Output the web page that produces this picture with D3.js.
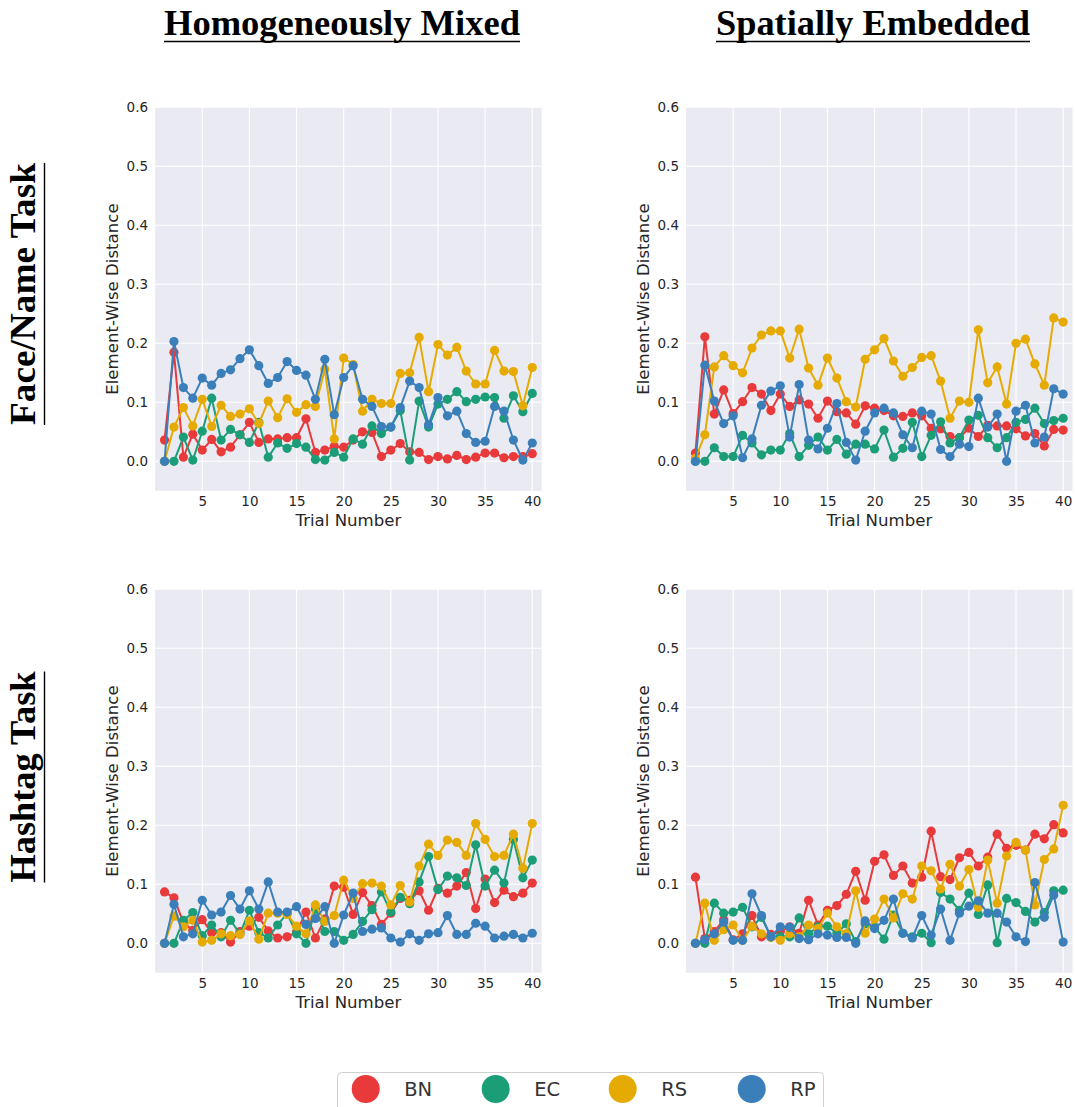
<!DOCTYPE html>
<html>
<head>
<meta charset="utf-8">
<script src="https://cdn.jsdelivr.net/npm/d3@7"></script>
<style>
  html, body { margin: 0; padding: 0; background: #ffffff; }
  svg { display: block; }
</style>
</head>
<body>
<script>
// Trial numbers shared by every panel
const trials = d3.range(1, 41);

const seriesNames = ["BN", "EC", "RS", "RP"];
const seriesColors = ["#e8393b", "#1b9e77", "#e6ab02", "#3a7fba"];

const yTicks = [0.0, 0.1, 0.2, 0.3, 0.4, 0.5, 0.6];
const xTicks = [5, 10, 15, 20, 25, 30, 35, 40];

const columnTitles = ["Homogeneously Mixed", "Spatially Embedded"];
const rowTitles = ["Face/Name Task", "Hashtag Task"];

// Face/Name task, homogeneously mixed
const faceMixedBN = [0.036,0.185,0.007,0.046,0.019,0.037,0.016,0.024,0.045,0.066,0.032,0.038,0.038,0.040,0.040,0.072,0.015,0.019,0.025,0.024,0.036,0.050,0.049,0.008,0.019,0.030,0.016,0.015,0.003,0.008,0.004,0.010,0.003,0.007,0.014,0.014,0.006,0.008,0.008,0.013];
const faceMixedEC = [0.000,0.000,0.041,0.002,0.051,0.107,0.036,0.054,0.045,0.032,0.066,0.007,0.031,0.022,0.030,0.024,0.003,0.002,0.015,0.007,0.038,0.029,0.060,0.047,0.058,0.086,0.002,0.102,0.058,0.097,0.105,0.118,0.101,0.105,0.109,0.108,0.073,0.111,0.084,0.115];
const faceMixedRS = [0.000,0.058,0.091,0.060,0.105,0.059,0.095,0.076,0.080,0.089,0.064,0.102,0.074,0.106,0.083,0.096,0.093,0.156,0.038,0.175,0.164,0.085,0.105,0.098,0.098,0.149,0.150,0.210,0.118,0.198,0.180,0.193,0.153,0.131,0.131,0.188,0.153,0.152,0.094,0.159];
const faceMixedRP = [0.000,0.203,0.125,0.107,0.141,0.129,0.149,0.155,0.174,0.189,0.162,0.132,0.142,0.169,0.154,0.146,0.105,0.173,0.079,0.142,0.162,0.105,0.093,0.059,0.058,0.091,0.136,0.125,0.062,0.108,0.077,0.085,0.047,0.032,0.034,0.093,0.085,0.036,0.002,0.031];

// Face/Name task, spatially embedded
const faceSpatialBN = [0.014,0.211,0.080,0.121,0.081,0.101,0.125,0.114,0.086,0.114,0.093,0.104,0.097,0.073,0.102,0.084,0.082,0.063,0.094,0.090,0.086,0.077,0.076,0.082,0.077,0.056,0.055,0.042,0.040,0.056,0.042,0.061,0.060,0.060,0.055,0.043,0.047,0.026,0.054,0.053];
const faceSpatialEC = [0.000,0.000,0.023,0.008,0.008,0.044,0.031,0.011,0.019,0.019,0.047,0.008,0.027,0.041,0.019,0.037,0.012,0.029,0.029,0.021,0.053,0.007,0.022,0.066,0.008,0.044,0.067,0.031,0.040,0.070,0.078,0.040,0.023,0.040,0.066,0.071,0.090,0.064,0.069,0.073];
const faceSpatialRS = [0.005,0.045,0.160,0.179,0.162,0.150,0.192,0.214,0.221,0.221,0.175,0.224,0.158,0.129,0.175,0.141,0.101,0.092,0.173,0.189,0.208,0.170,0.144,0.159,0.176,0.179,0.136,0.073,0.102,0.100,0.223,0.133,0.160,0.097,0.200,0.207,0.165,0.129,0.243,0.236];
const faceSpatialRP = [0.000,0.163,0.102,0.064,0.077,0.006,0.038,0.095,0.119,0.128,0.041,0.130,0.036,0.021,0.056,0.098,0.032,0.002,0.051,0.082,0.090,0.082,0.045,0.023,0.085,0.080,0.020,0.008,0.029,0.025,0.107,0.058,0.080,0.000,0.085,0.095,0.031,0.041,0.123,0.114];

// Hashtag task, homogeneously mixed
const hashMixedBN = [0.087,0.077,0.035,0.022,0.040,0.018,0.018,0.002,0.020,0.029,0.044,0.021,0.009,0.011,0.019,0.053,0.009,0.041,0.097,0.095,0.049,0.086,0.064,0.032,0.051,0.076,0.073,0.089,0.056,0.093,0.085,0.097,0.120,0.059,0.109,0.069,0.090,0.079,0.085,0.102];
const hashMixedEC = [0.000,0.000,0.039,0.052,0.013,0.031,0.011,0.039,0.016,0.056,0.018,0.009,0.031,0.051,0.016,0.000,0.058,0.020,0.020,0.005,0.015,0.037,0.057,0.087,0.053,0.078,0.067,0.104,0.147,0.091,0.114,0.111,0.098,0.167,0.097,0.124,0.102,0.176,0.111,0.141];
const hashMixedRS = [0.000,0.046,0.028,0.039,0.002,0.005,0.016,0.013,0.015,0.038,0.007,0.051,0.051,0.049,0.029,0.016,0.065,0.037,0.047,0.107,0.076,0.101,0.102,0.097,0.065,0.098,0.070,0.131,0.168,0.149,0.175,0.171,0.149,0.203,0.176,0.147,0.149,0.185,0.127,0.203];
const hashMixedRP = [0.000,0.066,0.011,0.016,0.073,0.048,0.053,0.081,0.058,0.089,0.058,0.104,0.053,0.053,0.062,0.032,0.042,0.062,0.000,0.048,0.085,0.020,0.024,0.026,0.009,0.002,0.016,0.005,0.016,0.018,0.047,0.015,0.015,0.034,0.029,0.009,0.012,0.015,0.009,0.017];

// Hashtag task, spatially embedded
const hashSpatialBN = [0.112,0.008,0.020,0.040,0.006,0.016,0.047,0.011,0.015,0.020,0.028,0.017,0.073,0.031,0.056,0.064,0.083,0.122,0.073,0.139,0.150,0.115,0.131,0.102,0.112,0.190,0.113,0.108,0.145,0.154,0.131,0.146,0.185,0.161,0.166,0.158,0.185,0.177,0.201,0.187];
const hashSpatialEC = [0.000,0.000,0.068,0.051,0.053,0.061,0.028,0.044,0.011,0.011,0.011,0.043,0.016,0.028,0.029,0.017,0.033,0.003,0.033,0.028,0.007,0.048,0.017,0.011,0.017,0.001,0.086,0.075,0.056,0.085,0.049,0.099,0.001,0.076,0.069,0.054,0.036,0.052,0.089,0.090];
const hashSpatialRS = [0.000,0.068,0.005,0.023,0.031,0.005,0.029,0.016,0.010,0.005,0.016,0.011,0.031,0.025,0.051,0.028,0.016,0.089,0.017,0.041,0.075,0.043,0.084,0.075,0.131,0.123,0.092,0.134,0.097,0.125,0.061,0.141,0.068,0.148,0.171,0.158,0.065,0.142,0.160,0.234];
const hashSpatialRP = [0.000,0.006,0.016,0.036,0.005,0.005,0.084,0.047,0.011,0.028,0.027,0.008,0.006,0.016,0.014,0.010,0.010,0.000,0.038,0.025,0.039,0.075,0.017,0.009,0.047,0.014,0.058,0.005,0.051,0.063,0.072,0.051,0.051,0.036,0.011,0.003,0.103,0.044,0.082,0.002];

// Panels in row-major order: [row][column]
const panelSeries = [
  [[faceMixedBN, faceMixedEC, faceMixedRS, faceMixedRP],
   [faceSpatialBN, faceSpatialEC, faceSpatialRS, faceSpatialRP]],
  [[hashMixedBN, hashMixedEC, hashMixedRS, hashMixedRP],
   [hashSpatialBN, hashSpatialEC, hashSpatialRS, hashSpatialRP]]
];

// ---- layout ----
const W = 1075, H = 1107;
const plotW = 386.6, plotH = 383.5;
const colX = [155.1, 686.0];
const rowY = [107.3, 589.3];
const textColor = "#262626";
const sansFont = "'DejaVu Sans', sans-serif";
const serifFont = "'Liberation Serif', 'DejaVu Serif', serif";

const svg = d3.select("body").append("svg")
  .attr("width", W).attr("height", H);

const x = d3.scaleLinear().domain([0, 41]).range([0, plotW]);
const y = d3.scaleLinear().domain([-0.05, 0.6]).range([plotH, 0]);

const line = d3.line()
  .x((d, i) => x(trials[i]))
  .y(d => y(d));

panelSeries.forEach((row, r) => {
  row.forEach((series, c) => {
    const g = svg.append("g")
      .attr("transform", `translate(${colX[c]},${rowY[r]})`);

    g.append("rect")
      .attr("width", plotW).attr("height", plotH)
      .attr("fill", "#eaeaf2");

    // grid lines
    g.append("g").selectAll("line").data(yTicks).join("line")
      .attr("x1", 0).attr("x2", plotW)
      .attr("y1", d => y(d)).attr("y2", d => y(d))
      .attr("stroke", "#ffffff").attr("stroke-width", 1.1);
    g.append("g").selectAll("line").data(xTicks).join("line")
      .attr("y1", 0).attr("y2", plotH)
      .attr("x1", d => x(d)).attr("x2", d => x(d))
      .attr("stroke", "#ffffff").attr("stroke-width", 1.1);

    // axes (no domain line, no tick marks)
    const yAxis = g.append("g")
      .call(d3.axisLeft(y).tickValues(yTicks).tickFormat(d3.format(".1f")).tickSize(0).tickPadding(7));
    const xAxis = g.append("g")
      .attr("transform", `translate(0,${plotH})`)
      .call(d3.axisBottom(x).tickValues(xTicks).tickFormat(d3.format("d")).tickSize(0).tickPadding(6));
    [yAxis, xAxis].forEach(a => {
      a.select(".domain").remove();
      a.attr("font-size", null).attr("font-family", null);
      a.selectAll("text")
        .attr("fill", textColor)
        .style("font-family", sansFont)
        .style("font-size", "13.5px");
    });

    // axis titles
    g.append("text")
      .attr("x", plotW / 2).attr("y", plotH + 35)
      .attr("text-anchor", "middle")
      .attr("fill", textColor)
      .style("font-family", sansFont).style("font-size", "16.6px")
      .text("Trial Number");
    g.append("text")
      .attr("transform", `translate(${-42},${plotH / 2}) rotate(-90)`)
      .attr("text-anchor", "middle")
      .attr("dominant-baseline", "middle")
      .attr("fill", textColor)
      .style("font-family", sansFont).style("font-size", "16.6px")
      .text("Element-Wise Distance");

    // series lines and markers
    series.forEach((vals, s) => {
      const sg = g.append("g");
      sg.append("path")
        .datum(vals)
        .attr("d", line)
        .attr("fill", "none")
        .attr("stroke", seriesColors[s])
        .attr("stroke-width", 2)
        .attr("stroke-linejoin", "round");
      sg.selectAll("circle").data(vals).join("circle")
        .attr("cx", (d, i) => x(trials[i]))
        .attr("cy", d => y(d))
        .attr("r", 4.6)
        .attr("fill", seriesColors[s]);
    });
  });
});

// column titles, underlined
const titleCenters = [342, 873];
const titleWidths = [356, 314];
columnTitles.forEach((t, i) => {
  svg.append("text")
    .attr("x", titleCenters[i]).attr("y", 35)
    .attr("text-anchor", "middle")
    .attr("fill", "#000")
    .attr("textLength", titleWidths[i])
    .attr("lengthAdjust", "spacingAndGlyphs")
    .style("font-family", serifFont).style("font-weight", "bold").style("font-size", "36px")
    .text(t);
  svg.append("line")
    .attr("x1", titleCenters[i] - titleWidths[i] / 2)
    .attr("x2", titleCenters[i] + titleWidths[i] / 2)
    .attr("y1", 41.5).attr("y2", 41.5)
    .attr("stroke", "#000").attr("stroke-width", 1.4);
});

// row titles, rotated and underlined
const rowCenters = [294, 777];
const rowLengths = [262, 211];
rowTitles.forEach((t, i) => {
  svg.append("text")
    .attr("transform", `translate(35,${rowCenters[i]}) rotate(-90)`)
    .attr("text-anchor", "middle")
    .attr("fill", "#000")
    .attr("textLength", rowLengths[i])
    .attr("lengthAdjust", "spacingAndGlyphs")
    .style("font-family", serifFont).style("font-weight", "bold").style("font-size", "36px")
    .text(t);
  svg.append("line")
    .attr("x1", 44.5).attr("x2", 44.5)
    .attr("y1", rowCenters[i] - rowLengths[i] / 2)
    .attr("y2", rowCenters[i] + rowLengths[i] / 2)
    .attr("stroke", "#000").attr("stroke-width", 1.4);
});

// legend
const legend = svg.append("g");
legend.append("rect")
  .attr("x", 337.5).attr("y", 1072.5)
  .attr("width", 486).attr("height", 44)
  .attr("rx", 4)
  .attr("fill", "#ffffff")
  .attr("stroke", "#d0d0d0").attr("stroke-width", 1);
const legendX = [365.7, 495.7, 622.7, 751.7];
seriesNames.forEach((name, i) => {
  legend.append("circle")
    .attr("cx", legendX[i]).attr("cy", 1089)
    .attr("r", 14)
    .attr("fill", seriesColors[i]);
  legend.append("text")
    .attr("x", legendX[i] + 38.5).attr("y", 1096)
    .attr("fill", "#333333")
    .style("font-family", sansFont).style("font-size", "19.5px")
    .text(name);
});
</script>
</body>
</html>
